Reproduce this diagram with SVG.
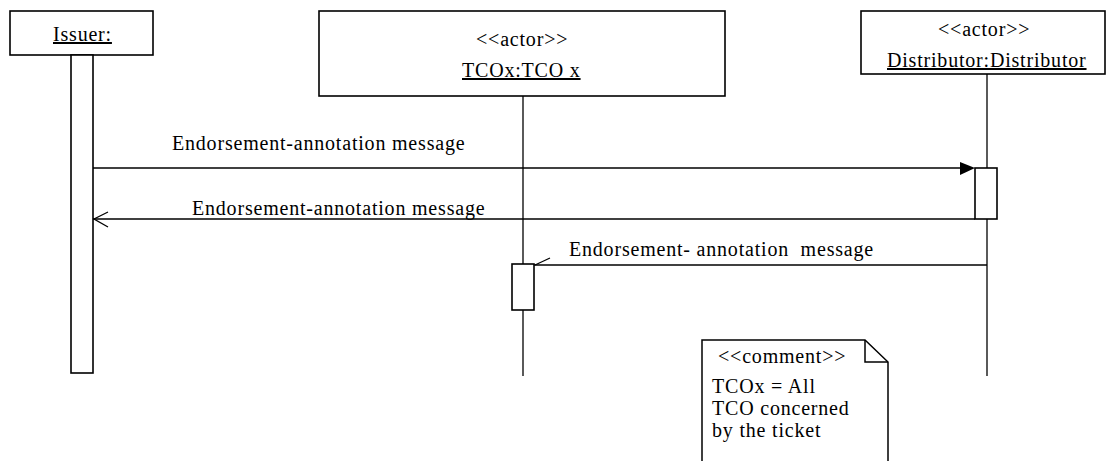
<svg xmlns="http://www.w3.org/2000/svg" width="1108" height="461" viewBox="0 0 1108 461" font-family="'Liberation Serif', 'Times New Roman', Times, serif" font-size="20">
<style>
text{font-family:'Liberation Serif','Times New Roman',Times,serif;font-size:20px;letter-spacing:0.8px;fill:#000;white-space:pre}
.u{text-decoration:underline}
.box{fill:#fff;stroke:#000;stroke-width:1.6}
.life{stroke:#000;stroke-width:1.3;fill:none}
.msg{stroke:#000;stroke-width:1.3;fill:none}
</style>
<rect width="1108" height="461" fill="#fff"/>
<g id="issuer">
<rect class="box" x="10" y="11" width="143" height="44"/>
<text class="u" x="53" y="41">Issuer:</text>
<rect class="box" x="71" y="55" width="22" height="318"/>
</g>
<g id="tcox">
<rect class="box" x="319" y="11" width="406" height="85"/>
<text x="476" y="46">&lt;&lt;actor&gt;&gt;</text>
<text class="u" x="462" y="77">TCOx:TCO x</text>
<line class="life" x1="523" y1="96" x2="523" y2="376"/>
<rect class="box" x="512" y="264" width="22" height="46"/>
</g>
<g id="distributor">
<rect class="box" x="861" y="11" width="244" height="63"/>
<text x="938" y="36">&lt;&lt;actor&gt;&gt;</text>
<text class="u" x="887" y="67">Distributor:Distributor</text>
<line class="life" x1="987" y1="74" x2="987" y2="376"/>
<rect class="box" x="975" y="168" width="22" height="51"/>
</g>
<g id="connectors">
<line class="msg" x1="93" y1="168" x2="962" y2="168"/>
<polygon points="975,168 960,162 960,175" fill="#000"/>
<text x="172" y="150">Endorsement-annotation message</text>
<line class="msg" x1="975" y1="219" x2="93" y2="219"/>
<polyline class="msg" points="108,212 94,219 108,227"/>
<text x="192" y="215">Endorsement-annotation message</text>
<line class="msg" x1="987" y1="265" x2="534" y2="265"/>
<line class="msg" x1="535" y1="265" x2="550" y2="258"/>
<text x="569" y="256" xml:space="preserve">Endorsement- annotation  message</text>
</g>
<g id="comment">
<path d="M702,461 V340 H865 L888,362 V461" fill="#fff" stroke="#000" stroke-width="1.5"/>
<path d="M865,340 V362 H888" fill="none" stroke="#000" stroke-width="1.5"/>
<text x="718" y="363">&lt;&lt;comment&gt;&gt;</text>
<text x="712" y="393">TCOx = All</text>
<text x="712" y="415">TCO concerned</text>
<text x="712" y="437">by the ticket</text>
</g>
</svg>
